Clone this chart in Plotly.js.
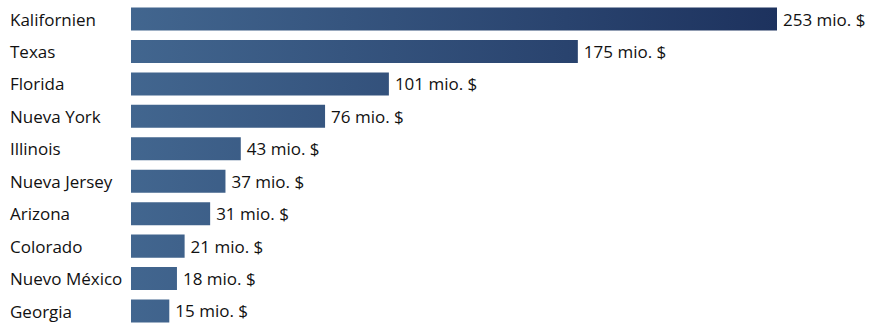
<!DOCTYPE html>
<html>
<head>
<meta charset="utf-8">
<script src="https://cdn.plot.ly/plotly-3.0.1.min.js"></script>
<style>html,body{margin:0;padding:0;background:#fff;}#chart{width:869px;height:323px;}</style>
</head>
<body>
<div id="chart"></div>
<script>
const states = ["Kalifornien","Texas","Florida","Nueva York","Illinois","Nueva Jersey","Arizona","Colorado","Nuevo México","Georgia"];
const values = [253,175,101,76,43,37,31,21,18,15];
const valueLabels = ["253 mio. $","175 mio. $","101 mio. $","76 mio. $","43 mio. $","37 mio. $","31 mio. $","21 mio. $","18 mio. $","15 mio. $"];

const FONT = "Open Sans, sans-serif";
const trace = {
  type: "bar",
  orientation: "h",
  y: states,
  x: values,
  text: valueLabels,
  textposition: "outside",
  constraintext: "none",
  cliponaxis: false,
  textfont: {family: FONT, size: 17, color: "#111111"},
  marker: {color: "#3a5a86", line: {width: 0}},
  hoverinfo: "none"
};

const annotations = states.map(s => ({
  xref: "paper", yref: "y", x: -0.1904, y: s,
  xanchor: "left", yanchor: "middle",
  text: s, showarrow: false,
  font: {family: FONT, size: 17, color: "#111111"}
}));

const layout = {
  width: 869, height: 323,
  margin: {l: 131, r: 92, t: 0, b: 0},
  paper_bgcolor: "#fff", plot_bgcolor: "#fff",
  bargap: 0.29,
  showlegend: false,
  xaxis: {range: [0, 253], visible: false, fixedrange: true},
  yaxis: {type: "category", range: [9.37, -0.586], showticklabels: false, showgrid: false, zeroline: false, showline: false, ticks: "", fixedrange: true},
  annotations: annotations
};

Plotly.newPlot("chart", [trace], layout, {staticPlot: true, displayModeBar: false}).then(gd => {
  const w = gd._fullLayout._size.w;
  const svg = gd.querySelector("svg.main-svg");
  const ns = "http://www.w3.org/2000/svg";
  let defs = svg.querySelector("defs");
  if (!defs) { defs = document.createElementNS(ns, "defs"); svg.insertBefore(defs, svg.firstChild); }
  const grad = document.createElementNS(ns, "linearGradient");
  grad.setAttribute("id", "barGrad");
  grad.setAttribute("gradientUnits", "userSpaceOnUse");
  grad.setAttribute("x1", "0"); grad.setAttribute("x2", String(w));
  grad.setAttribute("y1", "0"); grad.setAttribute("y2", "0");
  [["0", "#42668f"], ["1", "#1d325e"]].forEach(([o, c]) => {
    const st = document.createElementNS(ns, "stop");
    st.setAttribute("offset", o); st.setAttribute("stop-color", c);
    grad.appendChild(st);
  });
  defs.appendChild(grad);
  gd.querySelectorAll(".bars .point path").forEach(p => { p.style.fill = "url(#barGrad)"; });
  gd.querySelectorAll(".bars .point text").forEach(t => {
    const cur = t.getAttribute("transform") || "";
    t.setAttribute("transform", cur + " translate(3,0)");
  });
});
</script>
</body>
</html>
